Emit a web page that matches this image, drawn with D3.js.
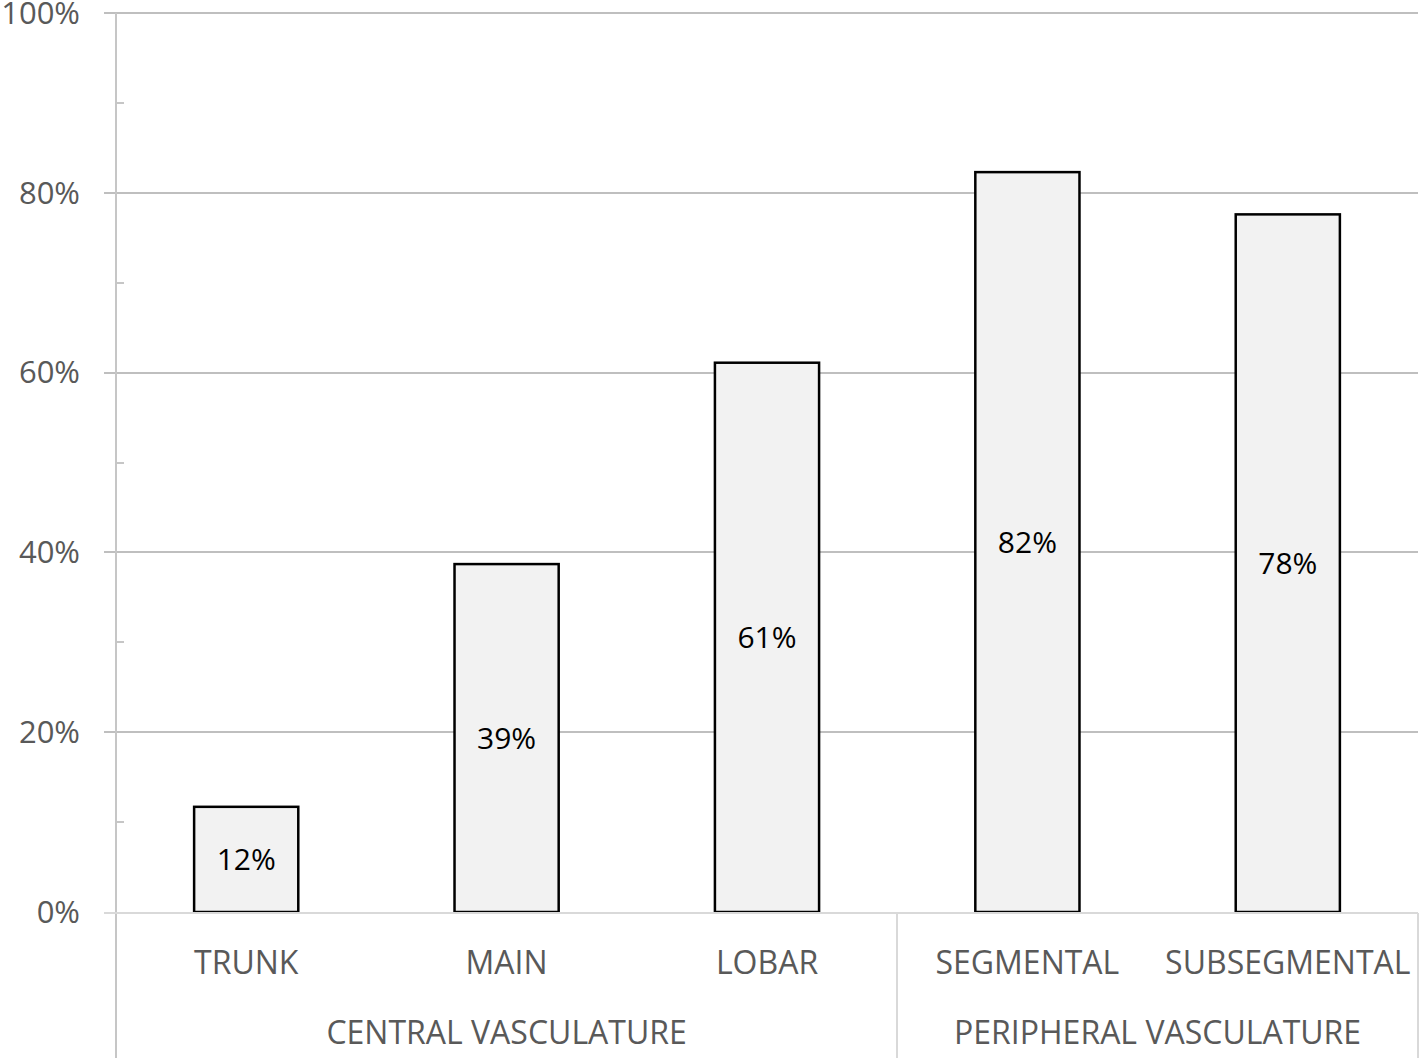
<!DOCTYPE html>
<html>
<head>
<meta charset="utf-8">
<script src="https://cdn.jsdelivr.net/npm/d3@7"></script>
<style>
  body { margin: 0; background: #fff; }
  text { font-family: "Open Sans", sans-serif; }
  line { shape-rendering: crispEdges; }
</style>
</head>
<body>
<div id="chart"></div>
<script>
var categories = ["TRUNK", "MAIN", "LOBAR", "SEGMENTAL", "SUBSEGMENTAL"];
var values = [0.117, 0.387, 0.611, 0.823, 0.776];
var valueLabels = ["12%", "39%", "61%", "82%", "78%"];
var groups = ["CENTRAL VASCULATURE", "PERIPHERAL VASCULATURE"];
var groupSpans = [3, 2];
var yTicks = [0, 0.2, 0.4, 0.6, 0.8, 1];
var yMinorTicks = [0.1, 0.3, 0.5, 0.7, 0.9];

var W = 1419, H = 1058;
var plotLeft = 116, plotRight = 1418, plotTop = 13, plotBottom = 912;

var svg = d3.select("#chart").append("svg")
    .attr("width", W)
    .attr("height", H);

var x = d3.scaleBand()
    .domain(categories)
    .range([plotLeft, plotRight])
    .paddingInner(0.6)
    .paddingOuter(0.3);

var y = d3.scaleLinear()
    .domain([0, 1])
    .range([plotBottom, plotTop]);

// gridlines
svg.append("g")
    .selectAll("line")
    .data(yTicks.filter(function(d) { return d > 0; }))
    .enter().append("line")
    .attr("x1", plotLeft - 12)
    .attr("x2", plotRight)
    .attr("y1", function(d) { return Math.round(y(d)); })
    .attr("y2", function(d) { return Math.round(y(d)); })
    .attr("stroke", "#bfbfbf")
    .attr("stroke-width", 2);

// y axis line
svg.append("line")
    .attr("x1", plotLeft).attr("x2", plotLeft)
    .attr("y1", plotTop).attr("y2", H)
    .attr("stroke", "#c6c6c6")
    .attr("stroke-width", 2);

// minor ticks
svg.append("g")
    .selectAll("line")
    .data(yMinorTicks)
    .enter().append("line")
    .attr("x1", plotLeft)
    .attr("x2", plotLeft + 8)
    .attr("y1", function(d) { return Math.round(y(d)); })
    .attr("y2", function(d) { return Math.round(y(d)); })
    .attr("stroke", "#c6c6c6")
    .attr("stroke-width", 2);

// y labels
svg.append("g")
    .selectAll("text")
    .data(yTicks)
    .enter().append("text")
    .attr("x", 80)
    .attr("y", function(d) { return y(d); })
    .attr("dy", "0.35em")
    .attr("text-anchor", "end")
    .attr("fill", "#595959")
    .style("font-size", "31px")
    .text(d3.format(".0%"));

// bars
svg.append("g")
    .selectAll("rect")
    .data(values)
    .enter().append("rect")
    .attr("x", function(d, i) { return x(categories[i]); })
    .attr("y", function(d) { return y(d); })
    .attr("width", x.bandwidth())
    .attr("height", function(d) { return y(0) - y(d); })
    .attr("fill", "#f2f2f2")
    .attr("stroke", "#000")
    .attr("stroke-width", 2.5);

// value labels
svg.append("g")
    .selectAll("text")
    .data(values)
    .enter().append("text")
    .attr("x", function(d, i) { return x(categories[i]) + x.bandwidth() / 2; })
    .attr("y", function(d) { return (y(d) + y(0)) / 2; })
    .attr("dy", "0.35em")
    .attr("text-anchor", "middle")
    .attr("fill", "#000")
    .style("font-size", "30px")
    .text(function(d, i) { return valueLabels[i]; });

// baseline
svg.append("line")
    .attr("x1", plotLeft - 12).attr("x2", plotRight)
    .attr("y1", plotBottom + 1).attr("y2", plotBottom + 1)
    .attr("stroke", "#d9d9d9")
    .attr("stroke-width", 2);

// category labels
svg.append("g")
    .selectAll("text")
    .data(categories)
    .enter().append("text")
    .attr("x", function(d) { return x(d) + x.bandwidth() / 2; })
    .attr("y", 974)
    .attr("text-anchor", "middle")
    .attr("fill", "#595959")
    .style("font-size", "32px")
    .text(function(d) { return d; });

// group separators and labels
var step = x.step();
var start = 0;
groups.forEach(function(g, i) {
  var gx0 = plotLeft + start * step;
  var gx1 = plotLeft + (start + groupSpans[i]) * step;
  svg.append("line")
      .attr("x1", gx1).attr("x2", gx1)
      .attr("y1", plotBottom + 1).attr("y2", H)
      .attr("stroke", "#d9d9d9")
      .attr("stroke-width", 2);
  svg.append("text")
      .attr("x", (gx0 + gx1) / 2)
      .attr("y", 1044)
      .attr("text-anchor", "middle")
      .attr("fill", "#595959")
      .style("font-size", "32px")
      .text(g);
  start += groupSpans[i];
});
</script>
</body>
</html>
